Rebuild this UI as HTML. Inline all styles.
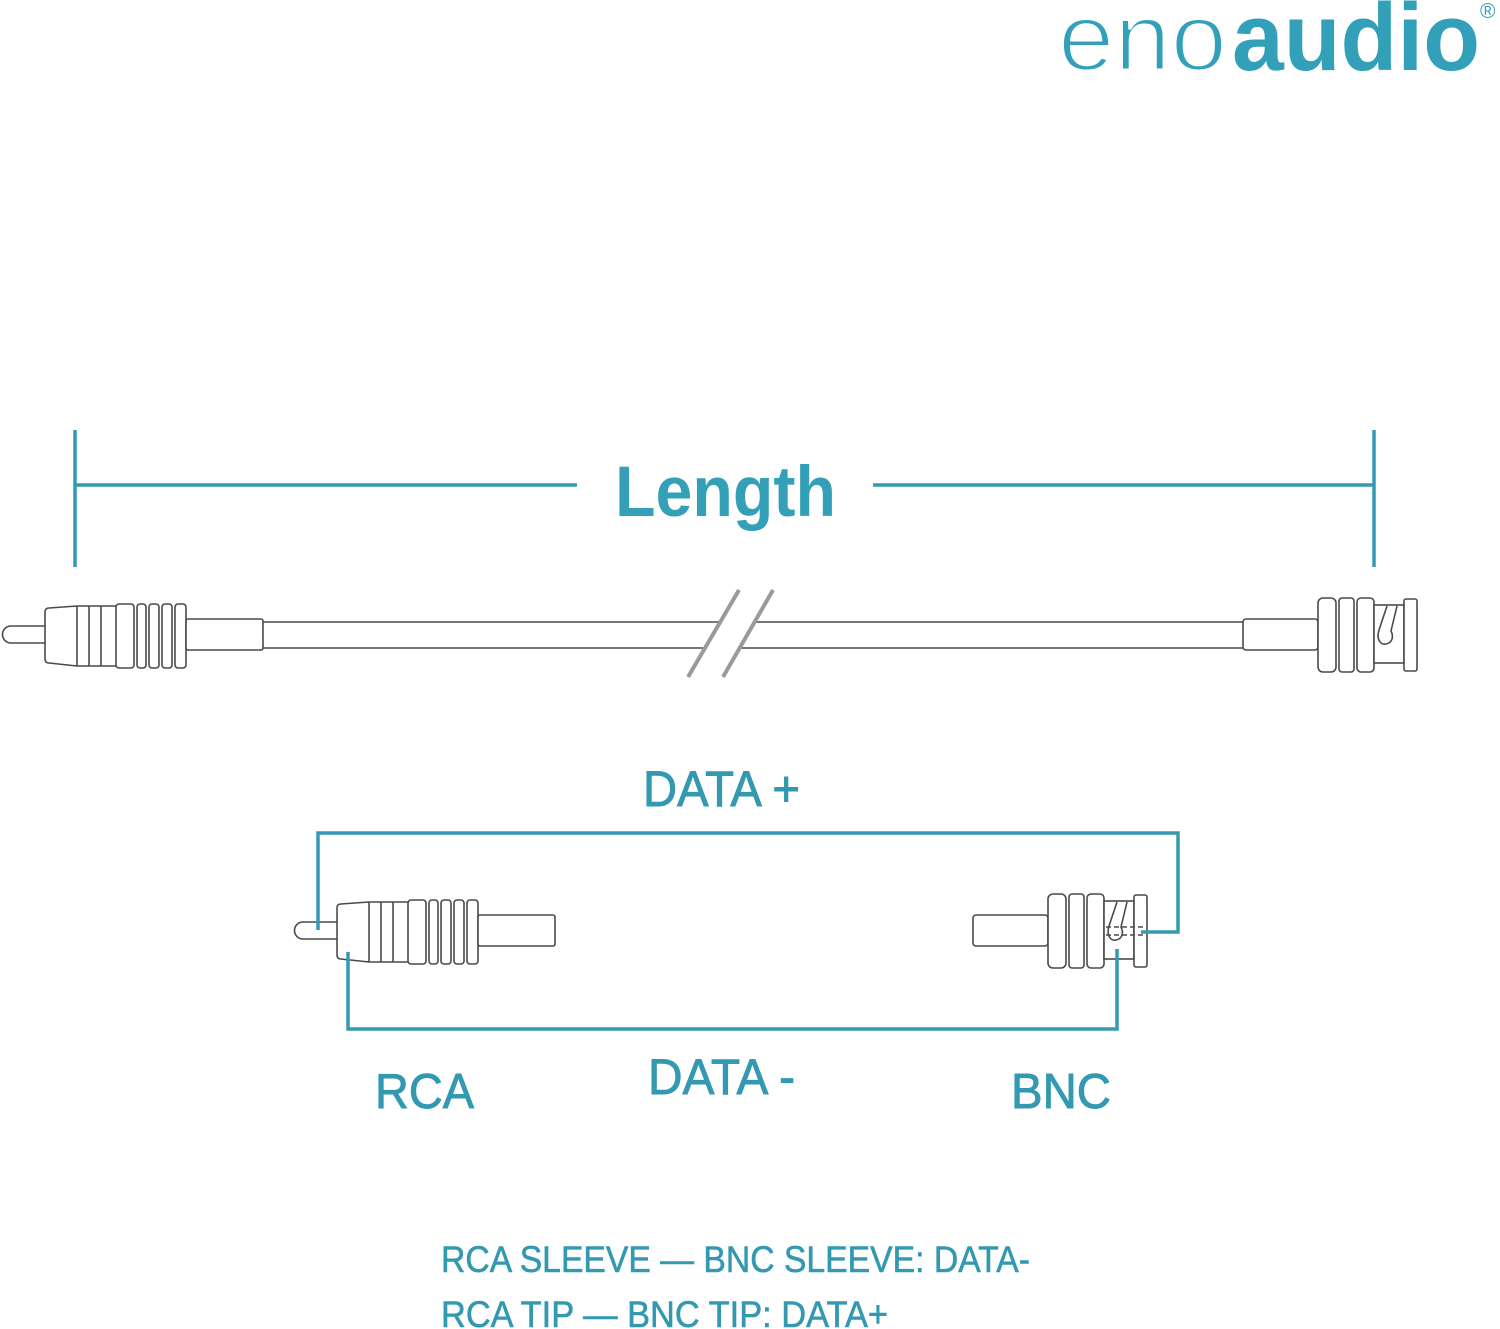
<!DOCTYPE html>
<html>
<head>
<meta charset="utf-8">
<style>
  html,body{margin:0;padding:0;background:#fff;}
  svg{display:block;}
  text{font-family:"Liberation Sans", Arial, sans-serif;}
</style>
</head>
<body>
<svg width="1500" height="1329" viewBox="0 0 1500 1329" xmlns="http://www.w3.org/2000/svg">
  <rect width="1500" height="1329" fill="#fff"/>

  <!-- Logo -->
  <text x="1058" y="70" font-size="96" fill="#33a0b9" stroke="#fff" stroke-width="3" textLength="169" lengthAdjust="spacingAndGlyphs">eno</text>
  <text x="1232" y="70" font-size="96" font-weight="bold" fill="#33a0b9" textLength="248" lengthAdjust="spacingAndGlyphs">audio</text>
  <text x="1480" y="18" font-size="21" fill="#33a0b9">®</text>

  <!-- Length dimension -->
  <g stroke="#3599b0" stroke-width="3.5" fill="none">
    <path d="M75,430 V567"/>
    <path d="M75,485 H577"/>
    <path d="M873,485 H1374"/>
    <path d="M1374,430 V567"/>
  </g>
  <text x="615" y="516" font-size="71" font-weight="bold" fill="#34a0b8" textLength="221" lengthAdjust="spacingAndGlyphs">Length</text>

  <defs>
    <g id="rca">
      <path d="M45,626 H11 A8.5,8.5 0 0 0 11,643 H45" />
      <path d="M116,606 L77,606 L49,608 Q45,608 45,612 L45,659 Q45,663 49,663 L77,666 L116,666" />
      <path d="M77,606 V666 M89,606 V666 M101,606 V666" />
      <rect x="116" y="604" width="18" height="64" rx="3"/>
      <rect x="137" y="604" width="9" height="64" rx="3"/>
      <rect x="149" y="604" width="10" height="64" rx="3"/>
      <rect x="162" y="604" width="10" height="64" rx="3"/>
      <rect x="175" y="604" width="11" height="64" rx="3"/>
      <rect x="186" y="619" width="77" height="31" rx="2"/>
    </g>
    <g id="bnc">
      <rect x="1243" y="619" width="75" height="31" rx="3"/>
      <rect x="1318" y="598" width="18" height="74" rx="5"/>
      <rect x="1339" y="598" width="15" height="74" rx="3"/>
      <rect x="1357" y="598" width="17" height="74" rx="4"/>
      <rect x="1374" y="605" width="30" height="58"/>
      <rect x="1404" y="599" width="13" height="72" rx="2"/>
      <path d="M1387,606 L1379,630 C1376,640 1381,645 1386,644 C1392,643 1394,637 1391,631 L1397,606"/>
    </g>
  </defs>

  <!-- Top cable -->
  <g stroke="#4a4a4a" stroke-width="1.6" fill="#fff">
    <use href="#rca"/>
    <use href="#bnc"/>
    <path d="M263,622 H1243 M263,648 H1243" fill="none"/>
  </g>
  <polygon points="739,590 688,677 723,677 773,590" fill="#fff"/>
  <g stroke="#9a9a9a" stroke-width="4" stroke-linecap="butt">
    <line x1="739" y1="590" x2="688" y2="677"/>
    <line x1="773" y1="590" x2="723" y2="677"/>
  </g>

  <!-- Bottom connectors -->
  <g stroke="#4a4a4a" stroke-width="1.6" fill="#fff">
    <use href="#rca" transform="translate(292,296)"/>
    <use href="#bnc" transform="translate(-270,296)"/>
  </g>
  <g stroke="#4a4a4a" stroke-width="1.5" stroke-dasharray="5,3" fill="none">
    <path d="M1106,927 H1146 M1106,935 H1146"/>
  </g>

  <!-- Wires -->
  <g stroke="#3599b0" stroke-width="3.5" fill="none" stroke-linejoin="miter">
    <path d="M318,930 V833 H1178 V932 H1141"/>
    <path d="M348,952 V1029 H1117 V949"/>
  </g>

  <!-- Labels -->
  <g fill="#3399b1" stroke="#3399b1" stroke-width="0.9">
    <text x="643" y="806" font-size="50" textLength="157" lengthAdjust="spacingAndGlyphs">DATA +</text>
    <text x="648" y="1094" font-size="50" textLength="147" lengthAdjust="spacingAndGlyphs">DATA -</text>
    <text x="375" y="1108" font-size="49" textLength="99" lengthAdjust="spacingAndGlyphs">RCA</text>
    <text x="1011" y="1108" font-size="49" textLength="100" lengthAdjust="spacingAndGlyphs">BNC</text>
  </g>
  <g fill="#3399b1" stroke="#3399b1" stroke-width="0.6">
    <text x="441" y="1272" font-size="37" textLength="589" lengthAdjust="spacingAndGlyphs">RCA SLEEVE — BNC SLEEVE: DATA-</text>
    <text x="441" y="1327" font-size="37" textLength="447" lengthAdjust="spacingAndGlyphs">RCA TIP — BNC TIP: DATA+</text>
  </g>
</svg>
</body>
</html>
